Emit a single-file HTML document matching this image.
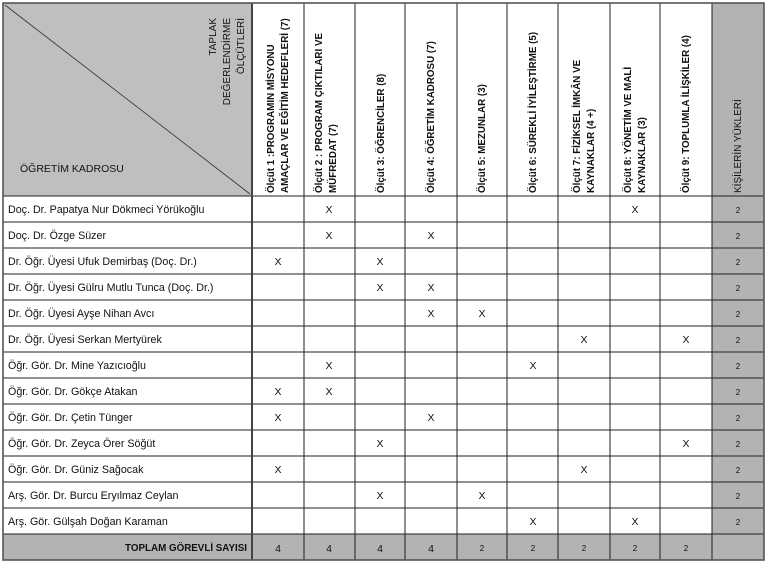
<!DOCTYPE html>
<html><head><meta charset="utf-8"><style>
html,body{margin:0;padding:0;background:#fff;}
svg{display:block;}
text{font-family:"Liberation Sans",sans-serif;fill:#111;}
.b{font-weight:bold;font-size:9.8px;}
.n{font-size:10.7px;}
.x{font-size:10.5px;}
.s{font-size:8px;}
</style></head><body>
<svg width="768" height="567" xmlns="http://www.w3.org/2000/svg">
<rect x="3" y="3" width="249" height="193" fill="#bfbfbf"/>
<rect x="712" y="3" width="52" height="557" fill="#b3b3b3"/>
<rect x="3" y="534" width="761" height="26" fill="#b3b3b3"/>
<line x1="5" y1="5" x2="250" y2="194" stroke="#333" stroke-width="0.8"/>
<g stroke="#222" stroke-width="1">
<line x1="3" y1="196" x2="764" y2="196"/>
<line x1="3" y1="222" x2="764" y2="222"/><line x1="3" y1="248" x2="764" y2="248"/>
<line x1="3" y1="274" x2="764" y2="274"/><line x1="3" y1="300" x2="764" y2="300"/>
<line x1="3" y1="326" x2="764" y2="326"/><line x1="3" y1="352" x2="764" y2="352"/>
<line x1="3" y1="378" x2="764" y2="378"/><line x1="3" y1="404" x2="764" y2="404"/>
<line x1="3" y1="430" x2="764" y2="430"/><line x1="3" y1="456" x2="764" y2="456"/>
<line x1="3" y1="482" x2="764" y2="482"/><line x1="3" y1="508" x2="764" y2="508"/>
<line x1="3" y1="534" x2="764" y2="534"/>
<line x1="304" y1="3" x2="304" y2="560"/><line x1="355" y1="3" x2="355" y2="560"/>
<line x1="405" y1="3" x2="405" y2="560"/><line x1="457" y1="3" x2="457" y2="560"/>
<line x1="507" y1="3" x2="507" y2="560"/><line x1="558" y1="3" x2="558" y2="560"/>
<line x1="610" y1="3" x2="610" y2="560"/><line x1="660" y1="3" x2="660" y2="560"/>
<line x1="712" y1="3" x2="712" y2="560"/>
</g>
<line x1="252" y1="3" x2="252" y2="560" stroke="#444" stroke-width="2"/>
<rect x="3" y="3" width="761" height="557" fill="none" stroke="#555" stroke-width="1.6"/>

<g text-anchor="end">
<text transform="translate(216,18) rotate(-90)" style="font-size:10px">TAPLAK</text>
<text transform="translate(230,18) rotate(-90)" style="font-size:10px">DEĞERLENDİRME</text>
<text transform="translate(244,18) rotate(-90)" style="font-size:10px">ÖLÇÜTLERİ</text>
</g>
<text x="20" y="172" style="font-size:10.5px">ÖĞRETİM KADROSU</text>

<g class="b">
<text transform="translate(274,193) rotate(-90)">Ölçüt 1 :PROGRAMIN MİSYONU</text>
<text transform="translate(288,193) rotate(-90)">AMAÇLAR VE EĞİTİM HEDEFLERİ (7)</text>
<text transform="translate(322,193) rotate(-90)">Ölçüt 2 : PROGRAM ÇIKTILARI VE</text>
<text transform="translate(336,193) rotate(-90)">MÜFREDAT (7)</text>
<text transform="translate(384,193) rotate(-90)">Ölçüt 3: ÖĞRENCİLER (8)</text>
<text transform="translate(434,193) rotate(-90)">Ölçüt 4: ÖĞRETİM KADROSU (7)</text>
<text transform="translate(485,193) rotate(-90)">Ölçüt 5: MEZUNLAR (3)</text>
<text transform="translate(536,193) rotate(-90)">Ölçüt 6: SÜREKLİ İYİLEŞTİRME (5)</text>
<text transform="translate(580,193) rotate(-90)">Ölçüt 7: FİZİKSEL İMKÂN VE</text>
<text transform="translate(594,193) rotate(-90)">KAYNAKLAR (4 +)</text>
<text transform="translate(631,193) rotate(-90)">Ölçüt 8: YÖNETİM VE MALİ</text>
<text transform="translate(645,193) rotate(-90)">KAYNAKLAR (3)</text>
<text transform="translate(689,193) rotate(-90)">Ölçüt 9: TOPLUMLA İLİŞKİLER (4)</text>
</g>
<text transform="translate(741,193) rotate(-90)" style="font-size:10px">KİŞİLERİN YÜKLERİ</text>

<g class="n">
<text x="8" y="213">Doç. Dr. Papatya Nur Dökmeci Yörükoğlu</text>
<text x="8" y="239">Doç. Dr. Özge Süzer</text>
<text x="8" y="265">Dr. Öğr. Üyesi Ufuk Demirbaş (Doç. Dr.)</text>
<text x="8" y="291">Dr. Öğr. Üyesi Gülru Mutlu Tunca (Doç. Dr.)</text>
<text x="8" y="317">Dr. Öğr. Üyesi Ayşe Nihan Avcı</text>
<text x="8" y="343">Dr. Öğr. Üyesi Serkan Mertyürek</text>
<text x="8" y="369">Öğr. Gör. Dr. Mine Yazıcıoğlu</text>
<text x="8" y="395">Öğr. Gör. Dr. Gökçe Atakan</text>
<text x="8" y="421">Öğr. Gör. Dr. Çetin Tünger</text>
<text x="8" y="447">Öğr. Gör. Dr. Zeyca Örer Söğüt</text>
<text x="8" y="473">Öğr. Gör. Dr. Güniz Sağocak</text>
<text x="8" y="499">Arş. Gör. Dr. Burcu Eryılmaz Ceylan</text>
<text x="8" y="525">Arş. Gör. Gülşah Doğan Karaman</text>
</g>

<g class="x" text-anchor="middle">
<text x="329" y="213">X</text><text x="635" y="213">X</text>
<text x="329" y="239">X</text><text x="431" y="239">X</text>
<text x="278" y="265">X</text><text x="380" y="265">X</text>
<text x="380" y="291">X</text><text x="431" y="291">X</text>
<text x="431" y="317">X</text><text x="482" y="317">X</text>
<text x="584" y="343">X</text><text x="686" y="343">X</text>
<text x="329" y="369">X</text><text x="533" y="369">X</text>
<text x="278" y="395">X</text><text x="329" y="395">X</text>
<text x="278" y="421">X</text><text x="431" y="421">X</text>
<text x="380" y="447">X</text><text x="686" y="447">X</text>
<text x="278" y="473">X</text><text x="584" y="473">X</text>
<text x="380" y="499">X</text><text x="482" y="499">X</text>
<text x="533" y="525">X</text><text x="635" y="525">X</text>
</g>

<g class="s" text-anchor="middle">
<text x="738" y="213">2</text><text x="738" y="239">2</text><text x="738" y="265">2</text>
<text x="738" y="291">2</text><text x="738" y="317">2</text><text x="738" y="343">2</text>
<text x="738" y="369">2</text><text x="738" y="395">2</text><text x="738" y="421">2</text>
<text x="738" y="447">2</text><text x="738" y="473">2</text><text x="738" y="499">2</text>
<text x="738" y="525">2</text>
</g>

<text x="247" y="551" text-anchor="end" style="font-weight:bold;font-size:9.8px">TOPLAM GÖREVLİ SAYISI</text>
<g text-anchor="middle" style="font-size:10.5px">
<text x="278" y="552">4</text><text x="329" y="552">4</text><text x="380" y="552">4</text><text x="431" y="552">4</text>
</g>
<g class="s" text-anchor="middle">
<text x="482" y="551">2</text><text x="533" y="551">2</text><text x="584" y="551">2</text>
<text x="635" y="551">2</text><text x="686" y="551">2</text>
</g>
</svg>
</body></html>
